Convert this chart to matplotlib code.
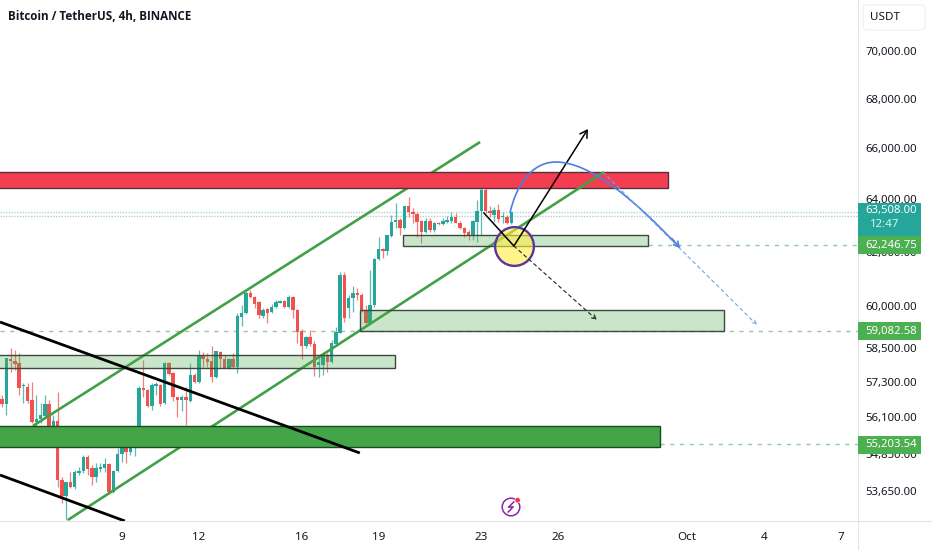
import matplotlib
matplotlib.use("Agg")
import matplotlib.pyplot as plt
from matplotlib.lines import Line2D
from matplotlib.patches import Rectangle, FancyBboxPatch, PathPatch
from matplotlib.path import Path

plt.rcParams['font.family'] = ['Noto Sans', 'DejaVu Sans']

opens = [56720,56550,58105,58035,57965,57165,57130,56686,55940,56040,
         56140,56550,55805,55970,54007,53490,53940,53780,54240,54305,
         54765,54400,54105,54370,54400,54530,53615,54305,54865,55065,
         54930,55095,55300,57100,57030,56480,57165,57200,56585,57965,
         57615,56790,56686,56790,56650,57545,57300,58210,58105,58035,
         57475,58355,58105,57790,58105,57825,59605,59750,60470,60325,
         60145,59640,59890,59785,59965,60110,60180,59965,60325,59855,
         59100,58565,58885,58640,57895,57895,58210,58000,58640,59030,
         61135,59930,60290,60470,60400,59855,59390,60035,61725,62100,
         62030,62590,63125,63200,62895,63740,63510,63435,63160,62745,
         63160,62820,63085,63050,63125,63160,63315,63085,62895,62745,
         62630,63125,63550,64360,63550,63395,63590,63315,63315,63085]
closes = [56550,58140,58035,57930,57100,57200,56650,55940,56040,56175,
          56550,55800,55970,54007,53490,53940,53780,54270,54305,54765,
          54370,54105,54400,54435,54530,53615,54305,54865,55065,54930,
          55095,55300,57100,57030,56480,57200,57235,56550,57965,57580,
          56790,56686,56790,56686,57545,57300,58210,58105,58000,57475,
          58390,58105,57790,58105,57825,59640,59750,60470,60325,60075,
          59675,59855,59750,59965,60145,60180,59965,60325,59855,59065,
          58565,58885,58640,57825,58000,58210,58000,58675,59065,61135,
          59570,60290,60470,60400,59855,59390,60035,61725,62100,62030,
          62630,63125,63200,62895,63740,63510,63435,63125,62745,63160,
          62820,63085,63050,63160,63200,63315,63085,62895,62705,62630,
          63160,63550,64360,63550,63470,63590,63240,63355,63085,63510]
highs = [56855,58140,58495,58424,58320,57270,57270,57300,56855,56585,
         56855,56686,56175,56960,54105,53940,54270,54335,54435,54830,
         54830,54500,54565,54565,54730,54565,54335,55065,55330,55330,
         55200,55500,57165,58070,57065,57270,57300,57235,58000,58000,
         57650,56800,56855,57130,57965,57615,58424,58355,58320,58565,
         58400,58390,58245,58140,58320,59750,60035,60545,60580,60360,
         60180,59930,59930,60075,60217,60217,60217,60400,60360,59890,
         59170,58920,59135,58745,58175,58355,58320,58780,59240,61245,
         61245,60400,60730,60655,60470,60035,61320,61765,62555,62140,
         62630,63395,63855,63280,63740,64085,63660,63510,63200,63280,
         63280,63125,63125,63280,63355,63510,63470,63160,62935,62820,
         63200,63970,64440,64440,63740,63700,63815,63510,63395,63510]
lows = [56445,56175,57650,57720,56855,56585,56585,55905,55805,55905,
        56070,55600,55700,53780,53260,52718,53745,53710,54170,54240,
        54170,53845,53940,54270,54270,53600,53585,54270,54600,54565,
        54830,54800,55250,56790,56445,56345,56855,56480,56550,57545,
        56650,56105,56310,55840,56615,57270,57270,57825,57825,57300,
        57440,57825,57790,57755,57790,57615,59280,59715,60290,59930,
        59570,59570,59390,59750,59930,60110,59930,59930,59570,58675,
        58105,58495,58565,57510,57475,57545,57650,57965,58600,59030,
        59425,59570,59785,60217,59785,59315,59390,59965,61690,61765,
        61880,62555,62895,62630,62860,63315,63085,62555,62330,62705,
        62745,62745,63010,63010,63085,63085,63085,62860,62555,62440,
        62440,62365,62630,63470,63315,63125,63125,63085,63050,63050]

date_ticks = [28, 46, 70, 88, 112, 130, 160, 178, 196]
date_labels = ['9', '12', '16', '19', '23', '26', 'Oct', '4', '7']
price_ticks = [70000, 68000, 66000, 64000, 62000, 60000, 58500, 57300, 56100, 54850, 53650]

current_price = 63508.00
support_1 = 62246.75
support_2 = 59082.58
support_3 = 55203.54
countdown = '12:47'

red_zone = (-1, 155.6, 64440, 65060)
dark_zone = (-1, 153.7, 55095, 55805)
light_zones = [(-1, 91.8, 57790, 58245), (93.7, 150.9, 62215, 62630), (83.6, 168.7, 59100, 59855)]
channel_upper = ([7.24, 111.7], [55805, 66252])
channel_lower = ([15.4, 140.65], [52718, 65060])
down_upper = ([-0.47, 83.6], [59421, 54897])
down_lower = ([-0.47, 28.7], [54171, 52685])
path_up_x = [112.6, 119.6, 136.9]
path_up_y = [63470, 62215, 66776]
path_down_x = [119.6, 139.0]
path_down_y = [62215, 59495]
curve_x = [118.7, 120.1, 123.8, 129.4, 137.4, 147.9, 158.4]
curve_y = [63470, 64553, 65456, 65456, 65456, 63970, 62140]
curve_dash_x = [140.4, 176.4]
curve_dash_y = [65060, 59314]
circle_center = (119.6, 62215)

UP, DOWN = '#26a69a', '#ef5350'
TXT = '#131722'
GRID = '#e0e3eb'

fig = plt.figure(figsize=(9.32, 5.5), dpi=100, facecolor='white')
ax = fig.add_axes([0, 29/550, 858/932, 521/550])
ax.set_yscale('log')
ax.set_xlim(-0.467, 200.0)
ax.set_ylim(52685, 72192)

# candles
for i, (o, h, l, c) in enumerate(zip(opens, highs, lows, closes)):
    col = UP if c >= o else DOWN
    ax.vlines(i, l, h, color=col, lw=0.9, alpha=0.75, zorder=2)
    ax.bar(i, abs(c - o), bottom=min(o, c), width=0.8, color=col, lw=0, zorder=3)

# price lines
for yv, st, col, x0 in [(current_price, (0, (1, 1)), '#a8d8d2', -0.47),
                        (63370, (0, (1, 1)), '#c4c8d0', -0.47),
                        (support_1, (0, (3, 4)), '#8fcf9a', 150.9),
                        (support_2, (0, (3, 4)), '#a3bfa6', -0.47),
                        (support_3, (0, (3, 4)), '#8fcf9a', 153.7)]:
    ax.plot([x0, 200], [yv, yv], color=col, lw=1, ls=st, zorder=1.5)

# channels / trend lines
ax.plot(*channel_upper, color='#43a047', lw=1.9, zorder=3.4, solid_capstyle='butt')
ax.plot(*channel_lower, color='#43a047', lw=1.9, zorder=4, solid_capstyle='butt')
for xs, ys in (down_upper, down_lower):
    ax.plot(xs, ys, color='black', lw=2.0, zorder=6, solid_capstyle='butt')

# zones
x0, x1, lo, hi = red_zone
ax.add_patch(Rectangle((x0, lo), x1 - x0, hi - lo, fc='#f23e50', ec='#5a3038', lw=1, zorder=3.6))
x0, x1, lo, hi = dark_zone
ax.add_patch(Rectangle((x0, lo), x1 - x0, hi - lo, fc='#43a547', ec='#1d4a20', lw=1, zorder=5))
for x0, x1, lo, hi in light_zones:
    ax.add_patch(Rectangle((x0, lo), x1 - x0, hi - lo, fc='#4caf50', alpha=0.30, lw=0, zorder=5))
    ax.add_patch(Rectangle((x0, lo), x1 - x0, hi - lo, fc='none', ec='#3c4a3e', lw=1, zorder=5.1))

# circle
ax.scatter(*circle_center, s=780, facecolor=(1.0, 0.93, 0.25, 0.6), edgecolor='#5b34a0', lw=1.7, zorder=6.5)

# arrows
ax.plot(path_up_x[:2], path_up_y[:2], color='black', lw=1.1, zorder=7)
ax.annotate('', xy=(path_up_x[2], path_up_y[2]), xytext=(path_up_x[1], path_up_y[1]),
            arrowprops=dict(arrowstyle='->,head_length=0.5,head_width=0.3', color='black', lw=1.1,
                            shrinkA=0, shrinkB=0), zorder=7)
ax.annotate('', xy=(path_down_x[1], path_down_y[1]), xytext=(path_down_x[0], path_down_y[0]),
            arrowprops=dict(arrowstyle='->,head_length=0.3,head_width=0.15', color='#222', lw=0.8,
                            ls=(0, (3, 3)), shrinkA=0, shrinkB=0), zorder=7)
ax.add_patch(PathPatch(Path(list(zip(curve_x, curve_y)),
                            [Path.MOVETO, Path.CURVE4, Path.CURVE4, Path.CURVE4, Path.CURVE4, Path.CURVE4, Path.CURVE4]),
                       fc='none', ec='#4a7fe0', lw=1.2, zorder=7))
ax.annotate('', xy=(curve_x[-1], curve_y[-1]), xytext=(156.5, 62500),
            arrowprops=dict(arrowstyle='->,head_length=0.35,head_width=0.2', color='#4a7fe0', lw=1.2,
                            shrinkA=0, shrinkB=0), zorder=7)
ax.annotate('', xy=(curve_dash_x[1], curve_dash_y[1]), xytext=(curve_dash_x[0], curve_dash_y[0]),
            arrowprops=dict(arrowstyle='->,head_length=0.25,head_width=0.12', color='#7f9fe6', lw=0.8,
                            ls=(0, (3, 3)), shrinkA=0, shrinkB=0), zorder=7)

# axes look
for s in ('top', 'left'):
    ax.spines[s].set_visible(False)
for s in ('right', 'bottom'):
    ax.spines[s].set_color(GRID)
    ax.spines[s].set_linewidth(0.8)
ax.set_xticks(date_ticks, date_labels)
ax.tick_params(axis='x', length=0, pad=8, labelsize=8.4, labelcolor=TXT)
ax.get_xticklabels()[6].set_fontweight('semibold')
ax.yaxis.tick_right()
ax.minorticks_off()
ax.set_yticks(price_ticks, [f'{p:,.2f}' for p in price_ticks])
ax.tick_params(axis='y', length=0, pad=5.5, labelsize=8.2, labelcolor=TXT, which='major')
ax.tick_params(axis='y', which='minor', length=0, labelright=False, labelleft=False)
ax.tick_params(axis='x', which='minor', length=0)

# right-hand price labels
tr = ax.get_yaxis_transform()
box_r = 921 / 858
def price_box(lo, hi, col):
    ax.add_patch(Rectangle((1.0, lo), box_r - 1.0, hi - lo, transform=tr, fc=col, ec='none',
                           clip_on=False, zorder=20))
price_box(62590, 63855, '#26a69a')
price_box(61910, 62590, '#4caf50')
price_box(58770, 59420, '#4caf50')
price_box(54865, 55480, '#4caf50')
tx = 1 + (891.5 - 858) / 858
kw = dict(transform=tr, ha='center', va='center', color='white', fontsize=8.2, zorder=21, clip_on=False)
ax.text(tx, 63560, f'{current_price:,.2f}', **kw)
ax.text(tx - 0.0085, 63010, countdown, transform=tr, ha='center', va='center', color='#d8f3ef',
        fontsize=8.2, zorder=21, clip_on=False)
ax.text(tx, 62246, f'{support_1:,.2f}', **kw)
ax.text(tx, 59090, f'{support_2:,.2f}', **kw)
ax.text(tx, 55180, f'{support_3:,.2f}', **kw)

# figure furniture (pixel placed)
fig.add_artist(Line2D([858/932, 1], [29/550, 29/550], color=GRID, lw=0.8))
fig.add_artist(Line2D([858/932, 858/932], [0, 29/550], color=GRID, lw=0.8))
fig.add_artist(FancyBboxPatch((863/932, 1 - 30/550), 62/932, 25/550, transform=fig.transFigure,
                              boxstyle='round,pad=0,rounding_size=0.005', fc='white', ec='#eef0f3', lw=0.8))
fig.text(870/932, 1 - 17/550, 'USDT', fontsize=8.4, color=TXT, va='center', ha='left')
fig.text(8/932, 1 - 17/550, 'Bitcoin / TetherUS, 4h, BINANCE', fontsize=8.4, color=TXT, va='center',
         ha='left', fontweight='bold', family=['Open Sans', 'DejaVu Sans'])

# lightning badge
ax_badge = fig.add_axes([499/932, 1 - 519/550, 24/932, 24/550])
ax_badge.set_xlim(-12, 12); ax_badge.set_ylim(-12, 12); ax_badge.axis('off')
ax_badge.add_patch(plt.Circle((0, 0), 8.8, fc='white', ec='#8e24aa', lw=1.1))
ax_badge.plot([2.8, -2.5, 2.2, -2.8], [5, -0.2, 0.2, -5], color='#8e24aa', lw=1.1)
ax_badge.add_patch(plt.Circle((6.6, 6.8), 2.7, fc='#f23645', ec='white', lw=0.4))

fig.savefig('out.png', dpi=100)
